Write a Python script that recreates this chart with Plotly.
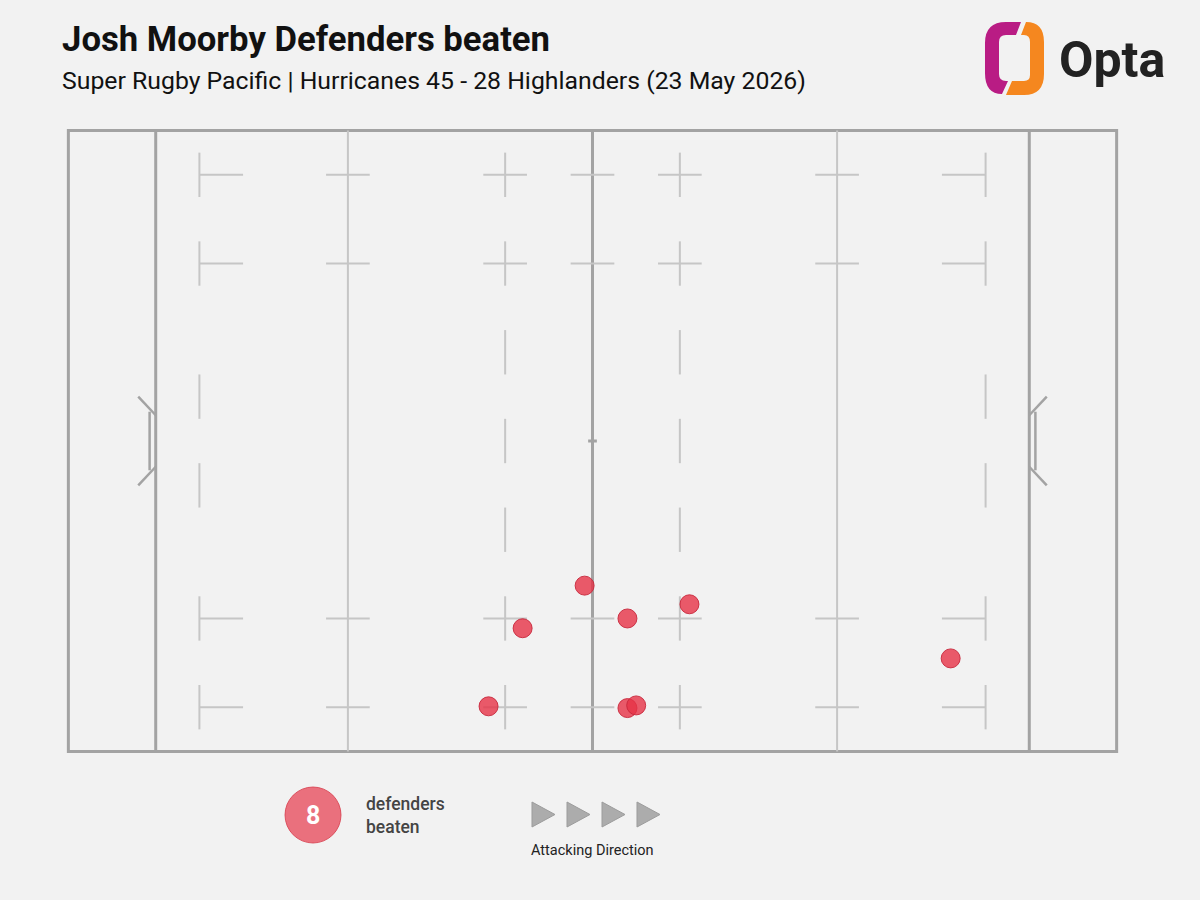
import plotly.graph_objects as go

# defenders beaten, pitch metres (x: 0 = own try line, y: 0 = near touchline)
beaten_x = [49.1, 42.0, 54.0, 61.1, 91.0, 38.1, 54.0, 55.0]
beaten_y = [18.7, 13.9, 15.0, 16.6, 10.5, 5.1, 4.9, 5.2]

title = "Josh Moorby Defenders beaten"
subtitle = "Super Rugby Pacific | Hurricanes 45 - 28 Highlanders (23 May 2026)"
legend_label = "defenders<br>beaten"
direction_label = "Attacking Direction"

W, H = 1200, 900
L, R, T, B = 64, 79, 126, 144
PW, PH = W - L - R, H - T - B

BG = "#f2f2f2"
THICK = "#a3a3a3"
THIN = "#c6c6c6"
DOT = "rgba(230,50,70,0.8)"
DOT_EDGE = "rgba(200,40,60,0.9)"


def px(x: float) -> float:
    return (x - L) / PW


def py(y: float) -> float:
    return (H - B - y) / PH


def seg(x0, y0, x1, y1, color=THIN, width=2):
    return dict(type="line", xref="x", yref="y", x0=x0, y0=y0, x1=x1, y1=y1,
                line=dict(color=color, width=width), layer="below")


def pixel_path(points: list[tuple], close: bool = True) -> str:
    out = []
    for p in points:
        cmd, *vals = p
        coords = []
        for i in range(0, len(vals), 2):
            coords.append(f"{px(vals[i]):.5f},{py(vals[i + 1]):.5f}")
        out.append(cmd + " " + " ".join(coords))
    return " ".join(out) + (" Z" if close else "")


shapes = []

# pitch outline, try lines, halfway
shapes.append(dict(type="rect", xref="x", yref="y", x0=-10, y0=0, x1=110, y1=70,
                   line=dict(color=THICK, width=3), layer="below"))
for xl in [0, 50, 100]:
    shapes.append(seg(xl, 0, xl, 70, THICK, 3))

# 22 m lines
for xl in [22, 78]:
    shapes.append(seg(xl, 0, xl, 70))

# dashed 10 m lines
for xl in [40, 60]:
    for yc in [5, 15, 25, 35, 45, 55, 65]:
        shapes.append(seg(xl, yc - 2.5, xl, yc + 2.5))

# dashed 5 m lines
for xl in [5, 95]:
    for yc in [5, 15, 30, 40, 55, 65]:
        shapes.append(seg(xl, yc - 2.5, xl, yc + 2.5))

# 5 m and 15 m hash marks
for yc in [5, 15, 55, 65]:
    for xl in [22, 40, 50, 60, 78]:
        shapes.append(seg(xl - 2.5, yc, xl + 2.5, yc))
    shapes.append(seg(5, yc, 10, yc))
    shapes.append(seg(90, yc, 95, yc))

# centre spot
shapes.append(seg(49.5, 35, 50.5, 35, THICK, 3))

# goal posts
for side in [1, -1]:
    base = 0 if side == 1 else 100
    shapes.append(seg(base - 2.0 * side, 40, base, 37.9, THICK, 2.5))
    shapes.append(seg(base - 0.7 * side, 38.3, base - 0.7 * side, 31.7, THICK, 2.5))
    shapes.append(seg(base, 32.1, base - 2.0 * side, 30, THICK, 2.5))

# Opta mark
left_piece = pixel_path([
    ("M", 1021, 22), ("L", 1006, 22), ("Q", 985, 22, 985, 43), ("L", 985, 73),
    ("Q", 985, 94, 1002, 94), ("L", 1008, 81), ("L", 1006, 81),
    ("Q", 999, 81, 999, 74), ("L", 999, 42), ("Q", 999, 35, 1006, 35), ("L", 1016, 35),
])
right_piece = pixel_path([
    ("M", 1026, 22), ("Q", 1044, 22, 1044, 42), ("L", 1044, 74),
    ("Q", 1044, 95, 1024, 95), ("L", 1006, 95), ("L", 1012, 81), ("L", 1024, 81),
    ("Q", 1030, 81, 1030, 75), ("L", 1030, 42), ("Q", 1030, 35, 1024, 35), ("L", 1021, 35),
])
shapes.append(dict(type="path", xref="paper", yref="paper", path=left_piece,
                   fillcolor="#b91c84", line=dict(width=0)))
shapes.append(dict(type="path", xref="paper", yref="paper", path=right_piece,
                   fillcolor="#f5871f", line=dict(width=0)))

# legend circle
shapes.append(dict(type="circle", xref="paper", yref="paper",
                   x0=px(285), x1=px(341), y0=py(843), y1=py(787),
                   fillcolor="rgba(230,50,70,0.68)", line=dict(color="rgba(215,60,75,0.8)", width=1)))

# attacking direction arrows
for cx in [543, 578, 613, 648]:
    tri = pixel_path([("M", cx - 11, 802), ("L", cx + 12, 814.5), ("L", cx - 11, 827)])
    shapes.append(dict(type="path", xref="paper", yref="paper", path=tri,
                       fillcolor="#acacac", line=dict(color="#9c9c9c", width=1)))

annotations = [
    dict(text=f"<b>{title}</b>", x=px(60), y=py(39), xanchor="left", yanchor="middle",
         font=dict(size=34.7, color="#111111", family="Roboto")),
    dict(text=subtitle, x=px(60), y=py(80), xanchor="left", yanchor="middle",
         font=dict(size=24.8, color="#111111", family="Roboto")),
    dict(text="<b>Opta</b>", x=px(1057), y=py(60), xanchor="left", yanchor="middle",
         font=dict(size=50, color="#222222", family="Roboto")),
    dict(text=f"<b>{len(beaten_x)}</b>", x=px(313), y=py(815), xanchor="center", yanchor="middle",
         font=dict(size=25, color="white", family="Roboto")),
    dict(text=legend_label, x=px(364), y=py(815), xanchor="left", yanchor="middle", align="left",
         font=dict(size=17.5, color="#444444", family="Roboto", weight=500)),
    dict(text=direction_label, x=px(592), y=py(850), xanchor="center", yanchor="middle",
         font=dict(size=14.5, color="#222222", family="Roboto")),
]
for a in annotations:
    a.update(xref="paper", yref="paper", showarrow=False)

fig = go.Figure(
    go.Scatter(
        x=beaten_x,
        y=beaten_y,
        mode="markers",
        marker=dict(size=19, color=DOT, line=dict(color=DOT_EDGE, width=1)),
        hoverinfo="x+y",
        cliponaxis=False,
    )
)
fig.update_layout(
    width=W,
    height=H,
    margin=dict(l=L, r=R, t=T, b=B, pad=0),
    paper_bgcolor=BG,
    plot_bgcolor=BG,
    showlegend=False,
    shapes=shapes,
    annotations=annotations,
    xaxis=dict(range=[-10.5, 110.5], visible=False, fixedrange=True),
    yaxis=dict(range=[-0.5, 70.5], visible=False, fixedrange=True),
)

fig.write_html(
    "out.html",
    config=dict(displayModeBar=False),
    post_script="document.body.style.margin='0';document.body.style.background='#f2f2f2';",
)
